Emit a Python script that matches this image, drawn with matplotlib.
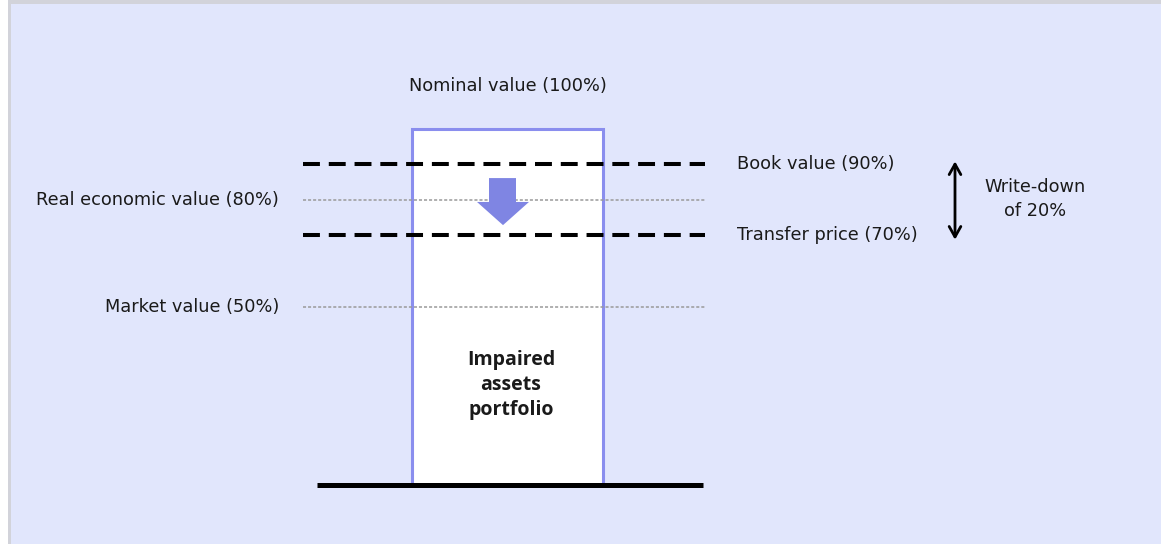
import matplotlib.pyplot as plt
from matplotlib.patches import Rectangle, Polygon

# values (% of nominal)
nominal = 100
level_names = ["Book value", "Real economic value", "Transfer price", "Market value"]
level_pct = [90, 80, 70, 50]
level_side = ["right", "left", "right", "left"]
level_kind = ["dash", "dot", "dash", "dot"]
writedown_pct = 20
box_label = "Impaired\nassets\nportfolio"

BG = "#E1E6FC"
BOX_EDGE = "#8A8EEE"
ARROW = "#7F85E3"
TXT = "#1a1a1a"
FS = 12.8

fig = plt.figure(figsize=(11.61, 5.44), dpi=100)
fig.patch.set_facecolor("white")
ax = fig.add_axes([0, 0, 1, 1])
ax.set_xlim(0, 1161)
ax.set_ylim(-16.6, 136.08)
ax.axis("off")

# panel background with thin grey frame on top/left
ax.add_patch(Rectangle((8 / 1161, 0), 1, 1, transform=ax.transAxes,
                       facecolor="#D2D3DA", edgecolor="none", zorder=0))
ax.add_patch(Rectangle((11 / 1161, 0), 1, 1 - 4 / 544, transform=ax.transAxes,
                       facecolor=BG, edgecolor="none", zorder=0))

# portfolio box
ax.bar(507.5, nominal, width=191, bottom=0, color="white",
       edgecolor=BOX_EDGE, linewidth=2.2, zorder=2)
ax.text(507.5, nominal + 12, f"Nominal value ({nominal}%)", ha="center", va="center",
        fontsize=FS, color=TXT)
ax.text(511, 28.0, box_label, ha="center", va="center", fontsize=14,
        fontweight="bold", family="Open Sans", color=TXT, linespacing=1.32, zorder=4)

# baseline
ax.plot([317, 703], [0, 0], color="black", linewidth=3.6, solid_capstyle="butt", zorder=3)

# value levels
for name, pct, side, kind in zip(level_names, level_pct, level_side, level_kind):
    if kind == "dash":
        ax.plot([303, 705], [pct, pct], color="black", linewidth=2.9,
                linestyle=(0, (4.2, 2.2)), zorder=3)
    else:
        ax.plot([303, 705], [pct, pct], color="#9a9a9a", linewidth=1.1,
                linestyle=(0, (2.0, 1.3)), zorder=3)
    label = f"{name} ({pct}%)"
    if side == "right":
        ax.text(737, pct, label, ha="left", va="center", fontsize=FS, color=TXT)
    else:
        ax.text(279, pct, label, ha="right", va="center", fontsize=FS, color=TXT)

# fat arrow inside the box
ax.add_patch(Polygon([(489, 86.1), (516, 86.1), (516, 79.4), (529, 79.4),
                      (503, 72.9), (477, 79.4), (489, 79.4)],
                     closed=True, facecolor=ARROW, edgecolor="none", zorder=4))

# write-down double arrow
top, low = level_pct[0], level_pct[2]
ax.annotate("", xy=(955, top + 0.8), xytext=(955, low - 1.2),
            arrowprops=dict(arrowstyle="<->,head_length=0.75,head_width=0.42",
                            color="black", linewidth=2.0, shrinkA=0, shrinkB=0))
ax.text(1035, (top + low) / 2 + 0.3, f"Write-down\nof {writedown_pct}%", ha="center",
        va="center", fontsize=FS, color=TXT, linespacing=1.4)

fig.savefig("out.png", dpi=100, facecolor=fig.get_facecolor())
